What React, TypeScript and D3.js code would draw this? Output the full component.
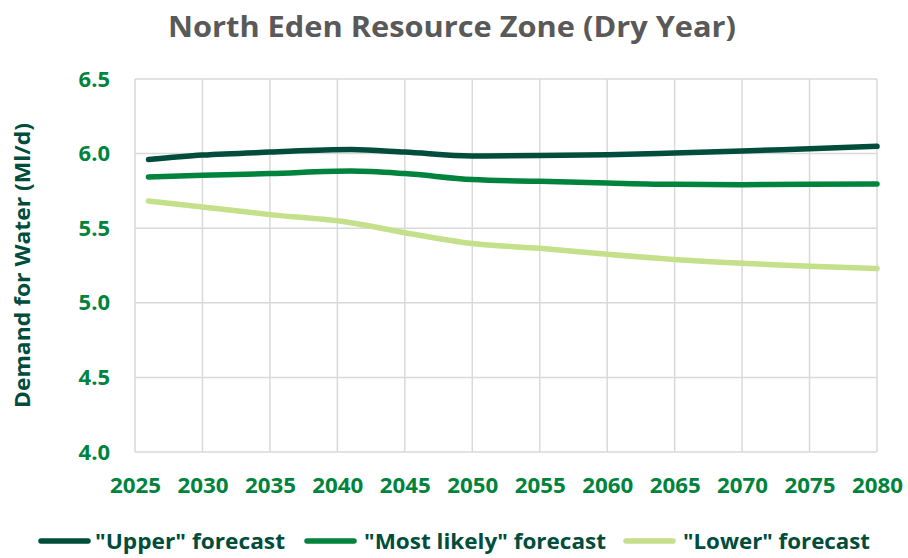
import React, { useEffect, useRef } from "react";
import * as d3 from "d3";

// values
const years = [2026, 2030, 2035, 2041, 2045, 2050, 2055, 2060, 2065, 2070, 2075, 2080];
const upperForecast = [5.96, 5.99, 6.01, 6.027, 6.01, 5.984, 5.987, 5.993, 6.004, 6.017, 6.033, 6.049];
const mostLikelyForecast = [5.843, 5.855, 5.866, 5.883, 5.866, 5.826, 5.814, 5.803, 5.794, 5.792, 5.794, 5.796];
const lowerForecast = [5.682, 5.642, 5.591, 5.537, 5.47, 5.397, 5.365, 5.325, 5.29, 5.265, 5.245, 5.23];
const seriesNames = ['"Upper" forecast', '"Most likely" forecast', '"Lower" forecast'];
const seriesColors = ["#004d3c", "#00843d", "#c4e08a"];
const xTicks = [2025, 2030, 2035, 2040, 2045, 2050, 2055, 2060, 2065, 2070, 2075, 2080];
const yTicks = [4.0, 4.5, 5.0, 5.5, 6.0, 6.5];

const App = () => {
  const ref = useRef<SVGSVGElement>(null);

  useEffect(() => {
    const width = 908;
    const height = 558;
    const margin = { top: 79, right: 31, bottom: 106, left: 135 };
    const innerWidth = width - margin.left - margin.right;
    const innerHeight = height - margin.top - margin.bottom;

    const svg = d3.select(ref.current);
    svg.selectAll("*").remove();
    svg.attr("width", width).attr("height", height);

    const g = svg.append("g").attr("transform", `translate(${margin.left},${margin.top})`);

    const x = d3.scaleLinear().domain([2025, 2080]).range([0, innerWidth]);
    const y = d3.scaleLinear().domain([4, 6.5]).range([innerHeight, 0]);

    // grid
    g.selectAll(".vgrid").data(xTicks).join("line").attr("class", "vgrid")
      .attr("x1", d => x(d)).attr("x2", d => x(d)).attr("y1", 0).attr("y2", innerHeight)
      .attr("stroke", "#d9d9d9").attr("stroke-width", 1.5);
    g.selectAll(".hgrid").data(yTicks).join("line").attr("class", "hgrid")
      .attr("x1", 0).attr("x2", innerWidth).attr("y1", d => y(d)).attr("y2", d => y(d))
      .attr("stroke", "#d9d9d9").attr("stroke-width", 1.5);

    // axes
    const xAxis = g.append("g").attr("transform", `translate(0,${innerHeight})`)
      .call(d3.axisBottom(x).tickValues(xTicks).tickFormat(d3.format("d")).tickSize(0).tickPadding(25));
    xAxis.select(".domain").remove();
    xAxis.selectAll("text").attr("fill", "#00843d").attr("font-size", 22).attr("font-weight", "bold")
      .attr("font-family", "'Open Sans', sans-serif").attr("textLength", 51).attr("lengthAdjust", "spacingAndGlyphs");

    const yAxis = g.append("g")
      .call(d3.axisLeft(y).tickValues(yTicks).tickFormat(d3.format(".1f")).tickSize(0).tickPadding(25));
    yAxis.select(".domain").remove();
    yAxis.selectAll("text").attr("fill", "#00843d").attr("font-size", 22).attr("font-weight", "bold")
      .attr("font-family", "'Open Sans', sans-serif");

    // lines
    const allSeries = [upperForecast, mostLikelyForecast, lowerForecast];
    const line = d3.line<number>().x((d, i) => x(years[i])).y(d => y(d)).curve(d3.curveMonotoneX);
    g.selectAll(".series").data(allSeries).join("path").attr("class", "series")
      .attr("d", d => line(d)).attr("fill", "none")
      .attr("stroke", (d, i) => seriesColors[i]).attr("stroke-width", 5.5).attr("stroke-linecap", "round");

    // title
    svg.append("text").text("North Eden Resource Zone (Dry Year)")
      .attr("x", 452).attr("y", 37).attr("text-anchor", "middle")
      .attr("font-family", "'Open Sans', sans-serif").attr("font-weight", "bold").attr("font-size", 28)
      .attr("fill", "#595959").attr("textLength", 568).attr("lengthAdjust", "spacingAndGlyphs");

    // y axis title
    svg.append("text").text("Demand for Water (Ml/d)")
      .attr("transform", `translate(30,${(123 + 408) / 2}) rotate(-90)`).attr("text-anchor", "middle")
      .attr("font-family", "'Open Sans', sans-serif").attr("font-weight", "bold").attr("font-size", 22)
      .attr("fill", "#004d3c").attr("textLength", 285).attr("lengthAdjust", "spacingAndGlyphs");

    // legend
    const legendItems = [
      { x0: 41, tx: 95, w: 190 },
      { x0: 307, tx: 364, w: 242 },
      { x0: 626, tx: 683, w: 187 },
    ];
    const legend = svg.append("g");
    legend.selectAll("line").data(seriesNames).join("line")
      .attr("x1", (d, i) => legendItems[i].x0).attr("x2", (d, i) => legendItems[i].x0 + 47)
      .attr("y1", 541).attr("y2", 541)
      .attr("stroke", (d, i) => seriesColors[i]).attr("stroke-width", 5.5).attr("stroke-linecap", "round");
    legend.selectAll("text").data(seriesNames).join("text").text(d => d)
      .attr("x", (d, i) => legendItems[i].tx).attr("y", 549)
      .attr("font-family", "'Open Sans', sans-serif").attr("font-weight", "bold").attr("font-size", 22)
      .attr("fill", "#004d3c").attr("textLength", (d, i) => legendItems[i].w).attr("lengthAdjust", "spacingAndGlyphs");
  }, []);

  return (
    <svg ref={ref} style={{ position: "absolute", left: 0, top: 0 }}></svg>
  );
};

export default App;
